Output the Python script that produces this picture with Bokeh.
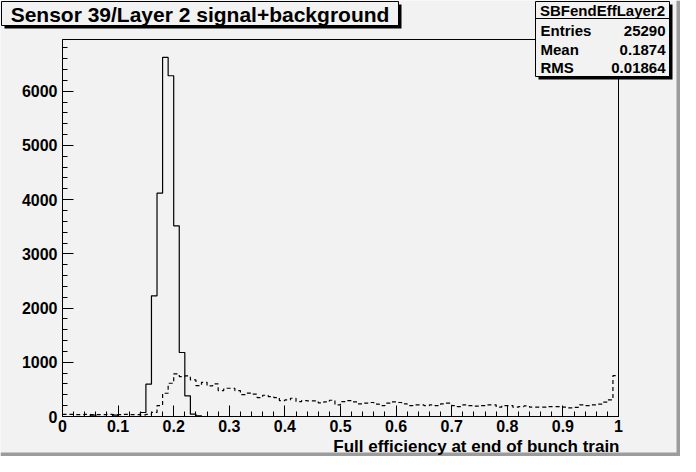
from bokeh.plotting import figure
from bokeh.models import (BoxAnnotation, Label, SingleIntervalTicker,
                          CustomJSTickFormatter, Range1d, LinearAxis)
from bokeh.embed import file_html
from bokeh.resources import INLINE

# ---- data: 100 bins of width 0.01 on [0, 1] ----
bin_edges = [round(i * 0.01, 2) for i in range(101)]

signal_bg_solid = [
    0, 0, 0, 0, 0, 25, 0, 0, 0, 25,          # 0.00-0.09
    0, 0, 0, 0, 74, 596, 2227, 4120, 6624, 6286,   # 0.10-0.19
    3518, 1181, 382, 42, 12, 0, 0, 0, 0, 0,  # 0.20-0.29
    0, 0, 0, 0, 0, 0, 0, 0, 0, 0,
    0, 0, 0, 0, 0, 0, 0, 0, 0, 0,
    0, 0, 0, 0, 0, 0, 0, 0, 0, 0,
    0, 0, 0, 0, 0, 0, 0, 0, 0, 0,
    0, 0, 0, 0, 0, 0, 0, 0, 0, 0,
    0, 0, 0, 0, 0, 0, 0, 0, 0, 0,
    0, 0, 0, 0, 0, 0, 0, 0, 0, 0,
]

dashed_hist = [
    40, 40, 35, 35, 40, 35, 35, 35, 40, 35,        # 0.00-0.09
    35, 40, 35, 35, 30, 40, 75, 202, 429, 613,     # 0.10-0.19
    785, 736, 748, 675, 570, 631, 565, 601, 478, 521,  # 0.20-0.29
    521, 478, 405, 432, 411, 350, 392, 368, 350, 294,  # 0.30-0.39
    307, 337, 276, 294, 288, 288, 251, 270, 300, 215,  # 0.40-0.49
    276, 294, 270, 233, 248, 258, 227, 202, 245, 270,  # 0.50-0.59
    258, 233, 202, 215, 215, 202, 215, 202, 233, 245,  # 0.60-0.69
    202, 184, 215, 202, 190, 202, 215, 215, 172, 202,  # 0.70-0.79
    202, 172, 184, 196, 172, 172, 172, 184, 184, 184,  # 0.80-0.89
    172, 160, 170, 215, 202, 215, 227, 264, 307, 754,  # 0.90-0.99
]

x_min, x_max = 0.0, 1.0
y_min, y_max = 0, 6955
x_ticks_interval = 0.1
y_ticks_interval = 1000

title_text = "Sensor 39/Layer 2 signal+background"
x_title = "Full efficiency at end of bunch train"
stats_name = "SBFendEffLayer2"
stats_rows = [("Entries", "25290"), ("Mean", "0.1874"), ("RMS", "0.01864")]

BG = "#f2f2f2"
FONT = "Liberation Sans"

W, H = 680, 456
# frame of the histogram in canvas pixels
FL, FR, FT, FB = 62, 618, 39, 416
xs = (x_max - x_min) / (FR - FL)
ys = (y_max - y_min) / (FB - FT)

p = figure(width=W, height=H, output_backend="svg", toolbar_location=None,
           x_axis_type=None, y_axis_type=None,
           x_range=Range1d(x_min - FL * xs, x_max + (W - FR) * xs),
           y_range=Range1d(y_min - (H - FB) * ys, y_max + FT * ys),
           min_border=0)
p.background_fill_color = BG
p.border_fill_color = BG
p.outline_line_color = None
p.grid.visible = False

p.step(x=bin_edges, y=signal_bg_solid + [signal_bg_solid[-1]], mode="after",
       line_color="black", line_width=1.2)
p.step(x=bin_edges, y=dashed_hist + [dashed_hist[-1]], mode="after",
       line_color="black", line_width=1.2, line_dash="4 3")

xaxis = LinearAxis(fixed_location=y_min, bounds=(x_min, x_max),
                   ticker=SingleIntervalTicker(interval=x_ticks_interval, num_minor_ticks=5),
                   formatter=CustomJSTickFormatter(
                       code="var s = tick.toFixed(1); return s.endsWith('.0') ? s.slice(0, -2) : s;"))
yaxis = LinearAxis(fixed_location=x_min, bounds=(y_min, y_max),
                   ticker=SingleIntervalTicker(interval=y_ticks_interval, num_minor_ticks=5))
yaxis.formatter.use_scientific = False
for ax in (xaxis, yaxis):
    ax.major_tick_in = 11
    ax.major_tick_out = 0
    ax.minor_tick_in = 5
    ax.minor_tick_out = 0
    ax.axis_line_color = "black"
    ax.major_tick_line_color = "black"
    ax.minor_tick_line_color = "black"
    ax.major_label_text_font = FONT
    ax.major_label_text_font_style = "bold"
    ax.major_label_text_font_size = "16px"
    ax.major_label_text_color = "black"
xaxis.major_label_standoff = 3
yaxis.major_label_standoff = 5
p.add_layout(xaxis, "below")
p.add_layout(yaxis, "left")

# frame box around the data area
p.add_layout(BoxAnnotation(left=x_min, right=x_max, bottom=y_min, top=y_max,
                           fill_alpha=0, line_color="black", line_alpha=1.0,
                           line_width=1))


def box(l, r, t, b, color, line=None):
    # screen units: x from canvas left, y from canvas bottom
    p.add_layout(BoxAnnotation(left=l, right=r, top=H - t, bottom=H - b,
                               left_units="screen", right_units="screen",
                               top_units="screen", bottom_units="screen",
                               fill_color=color, fill_alpha=1.0,
                               line_color=line, line_alpha=1.0 if line else 0,
                               line_width=1))


def label(x, y, text, size, align="left", baseline="middle"):
    p.add_layout(Label(x=x, y=H - y, x_units="screen", y_units="screen",
                       text=text, text_font=FONT, text_font_style="bold",
                       text_font_size=size, text_align=align,
                       text_baseline=baseline, text_color="black"))


# canvas border (right & bottom)
box(676, 680, 0, 456, "#9c9c9c")
box(0, 680, 452, 456, "#9c9c9c")

# title box with shadow
box(4, 401, 4, 28, "black")
box(1, 398, 1, 25, BG, "black")
label(199.5, 13.5, title_text, "21px", "center")

# stats box with shadow
box(538, 672, 4, 79, "black")
box(535, 669, 1, 76, BG, "black")
box(535, 669, 17.5, 18.5, "black")
label(602, 10, stats_name, "15px", "center")
for (name, val), yy in zip(stats_rows, [30, 49, 67]):
    label(540, yy, name, "15px", "left")
    label(665, yy, val, "15px", "right")

# x axis title, right-aligned at the frame end
label(619, 436, x_title, "17px", "right", "top")

open("out.html", "w").write(file_html(p, INLINE))
